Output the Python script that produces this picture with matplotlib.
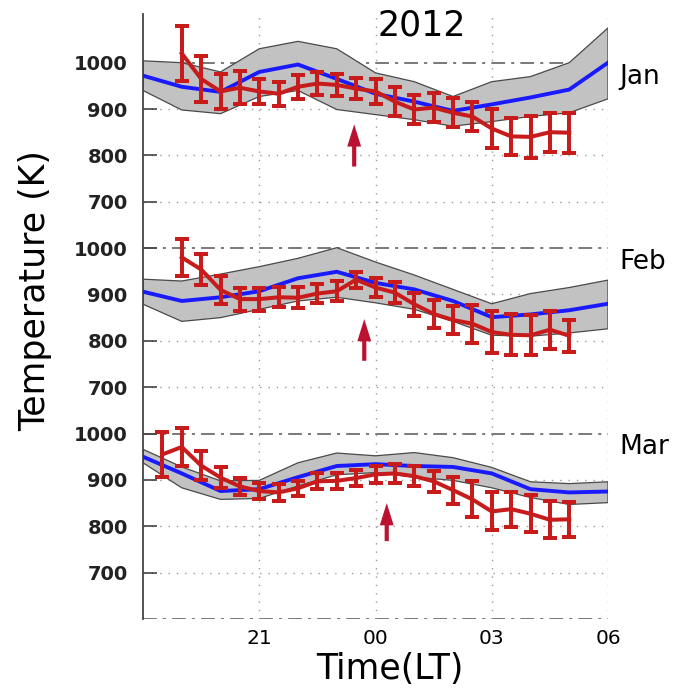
import matplotlib
matplotlib.use('Agg')
import matplotlib.pyplot as plt
import numpy as np

# model hours (LT, hours after midnight counted past 24)
model_t = [18, 19, 20, 21, 22, 23, 24, 25, 26, 27, 28, 29, 30]
obs_t = [19.0, 19.5, 20.0, 20.5, 21.0, 21.5, 22.0, 22.5, 23.0, 23.5, 24.0,
         24.5, 25.0, 25.5, 26.0, 26.5, 27.0, 27.5, 28.0, 28.5, 29.0]
mar_obs_t = [18.5] + obs_t

jan_obs = [1020, 965, 938, 946, 938, 933, 948, 955, 952, 944, 938,
           916, 899, 903, 892, 884, 858, 841, 840, 850, 849]
jan_err = [60, 50, 38, 35, 27, 26, 26, 24, 23, 22, 27,
           32, 32, 32, 31, 32, 43, 40, 45, 42, 43]
jan_model = [972, 948, 937, 980, 996, 965, 933, 916, 896, 910, 925, 942, 1000]
jan_upper = [1004, 1000, 980, 1030, 1046, 1030, 978, 959, 927, 959, 970, 1000, 1075]
jan_lower = [940, 898, 890, 927, 940, 899, 888, 877, 863, 873, 884, 892, 922]

feb_obs = [980, 954, 910, 890, 890, 894, 893, 902, 907, 932, 915,
           904, 879, 858, 845, 837, 819, 813, 812, 824, 811]
feb_err = [40, 34, 30, 25, 25, 22, 23, 20, 22, 17, 21,
           22, 25, 30, 30, 41, 46, 44, 43, 41, 35]
feb_model = [906, 886, 894, 907, 935, 949, 925, 911, 886, 851, 857, 866, 880]
feb_upper = [933, 929, 944, 960, 978, 1001, 970, 942, 911, 880, 902, 915, 931]
feb_lower = [879, 842, 850, 868, 886, 894, 882, 868, 842, 812, 810, 817, 826]

mar_obs = [955, 971, 931, 905, 886, 876, 873, 882, 897, 898, 904, 912,
           914, 908, 897, 878, 858, 832, 837, 827, 814, 815]
mar_err = [48, 41, 32, 22, 19, 18, 18, 16, 17, 18, 17, 18,
           20, 22, 22, 29, 39, 41, 38, 40, 40, 38]
mar_model = [950, 914, 876, 880, 906, 930, 934, 930, 928, 914, 880, 873, 875]
mar_upper = [966, 928, 898, 899, 937, 958, 952, 959, 948, 927, 896, 892, 896]
mar_lower = [937, 883, 858, 860, 887, 911, 916, 906, 899, 883, 862, 847, 851]

months = ['Jan', 'Feb', 'Mar']
arrow_t = [23.45, 23.71, 24.29]
arrow_tail = [776, 757, 768]
arrow_tip = [867, 847, 850]

# each month is stacked on one axis, shifted up by 400 K
offsets = [800, 400, 0]
tick_vals = [700, 800, 900, 1000]

panels = [
    (jan_obs, jan_err, jan_model, jan_upper, jan_lower),
    (feb_obs, feb_err, feb_model, feb_upper, feb_lower),
    (mar_obs, mar_err, mar_model, mar_upper, mar_lower),
]
panel_t = [obs_t, obs_t, mar_obs_t]

fig = plt.figure(figsize=(6.78, 6.88), dpi=100)
ax = fig.add_axes([143 / 678, 1 - 619 / 688, 465 / 678, 605 / 688])

red = '#c81c1c'
for i, (obs, err, model, upper, lower) in enumerate(panels):
    off = offsets[i]
    up = np.array(upper) + off
    lo = np.array(lower) + off
    ax.fill(np.r_[model_t, model_t[::-1]], np.r_[up, lo[::-1]],
            facecolor='#c2c2c2', edgecolor='#4a4a4a', lw=0.9, zorder=2)
    ax.plot(model_t, np.array(model) + off, color='#1a1aff', lw=2.8, zorder=3)
    ax.errorbar(panel_t[i], np.array(obs) + off, yerr=err, color=red, lw=2.9,
                elinewidth=2.9, capsize=4.7, capthick=2.9, zorder=4)
    ax.annotate('', xy=(arrow_t[i], arrow_tip[i] + off),
                xytext=(arrow_t[i], arrow_tail[i] + off),
                arrowprops=dict(arrowstyle='simple,head_length=0.8,head_width=0.5,tail_width=0.15',
                                mutation_scale=20, color='#bb1232', lw=0,
                                shrinkA=0, shrinkB=0), zorder=5)
    ax.axhline(1000 + off, color='#555555', lw=1.1, ls=(0, (9, 4, 2, 4)), zorder=1)
    for v in [700, 800, 900]:
        ax.axhline(v + off, color='#9a9a9a', lw=1.0, ls=(0, (1, 5)), zorder=1)
    ax.text(30.3, 970 + off, months[i], fontsize=19, va='center', ha='left')

ax.axhline(600, color='#555555', lw=1.1, ls=(0, (9, 4, 2, 4)), zorder=1)
for h in [21, 24, 27, 30]:
    ax.axvline(h, color='#9a9a9a', lw=1.0, ls=(0, (1, 5)), zorder=1)

ax.set_xlim(18, 30)
ax.set_ylim(600, 1905)
ax.set_xticks([21, 24, 27, 30])
ax.set_xticklabels(['21', '00', '03', '06'])
yt = [v + off for off in offsets for v in tick_vals]
ax.set_yticks(yt)
ax.set_yticklabels([str(v) for off in offsets for v in tick_vals], fontweight='bold')

for s in ['top', 'right', 'bottom']:
    ax.spines[s].set_visible(False)
ax.spines['left'].set_color('#444444')
ax.spines['left'].set_linewidth(1.3)
ax.tick_params(axis='y', direction='in', length=10, width=1.2, color='#444444',
               labelsize=14, pad=11, labelcolor='#222222')
ax.tick_params(axis='x', length=0, labelsize=14.5, pad=7)

ax.set_xlabel('Time(LT)', fontsize=25)
ax.xaxis.set_label_coords((390 - 143) / 465, -0.055)
ax.set_ylabel('Temperature (K)', fontsize=25)
ax.yaxis.set_label_coords(-0.195, 1 - (291 - 14) / 605)
fig.text(422 / 678, 1 - 25 / 688, '2012', fontsize=25, ha='center', va='center')

fig.savefig('out.png', dpi=100)
